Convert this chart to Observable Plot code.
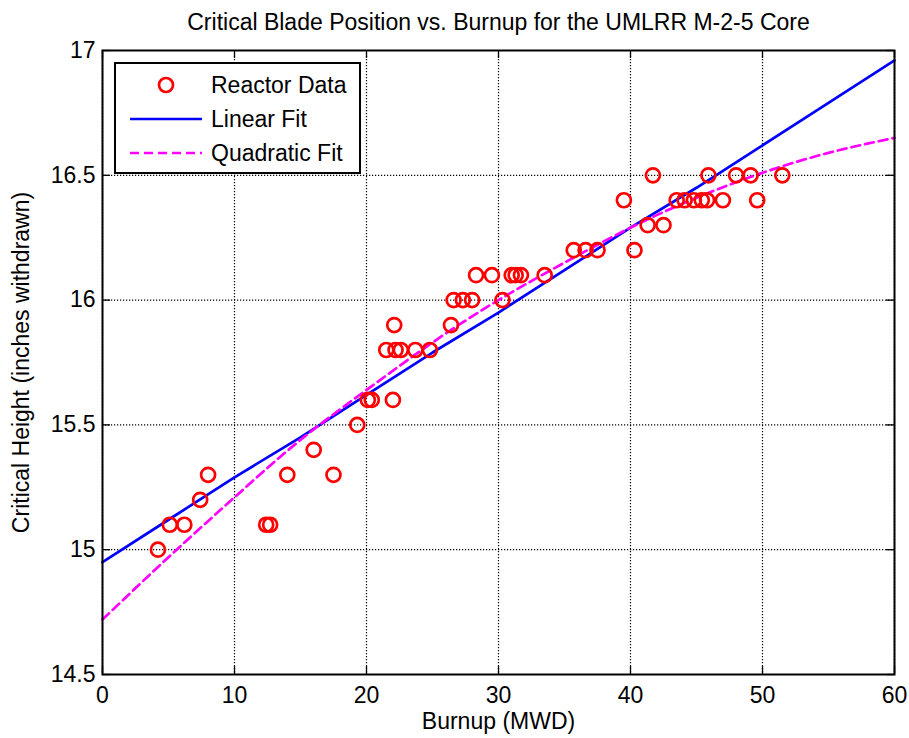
<!DOCTYPE html>
<html><head><meta charset="utf-8">
<script src="https://cdn.jsdelivr.net/npm/d3@7"></script>
<script src="https://cdn.jsdelivr.net/npm/@observablehq/plot@0.6"></script>
<style>
html,body{margin:0;padding:0;background:#fff;}
#chart svg{display:block;}
</style></head><body><div id="chart"></div>
<script>
// Reactor data
const burnup = [4.2,5.1,6.2,7.4,8.0,12.4,12.7,14.0,16.0,17.5,19.3,20.1,20.4,22.0,22.1,21.5,22.2,22.6,23.7,24.8,
  26.4,26.6,27.3,28.0,28.3,29.5,30.3,31.0,31.3,31.7,33.5,35.7,36.6,37.5,39.5,40.3,41.3,41.7,42.5,43.5,
  44.1,44.8,45.4,45.8,45.9,47.0,48.0,49.1,49.6,51.5];
const criticalHeight = [15.0,15.1,15.1,15.2,15.3,15.1,15.1,15.3,15.4,15.3,15.5,15.6,15.6,15.6,15.9,15.8,15.8,15.8,15.8,15.8,
  15.9,16.0,16.0,16.0,16.1,16.1,16.0,16.1,16.1,16.1,16.1,16.2,16.2,16.2,16.4,16.2,16.3,16.5,16.3,16.4,
  16.4,16.4,16.4,16.4,16.5,16.4,16.5,16.5,16.4,16.5];
// Fit curves
const fitBurnup = [0,5,10,15,20,25,30,35,40,45,50,55,60];
const linearFit = [14.95,15.12,15.29,15.45,15.62,15.79,15.95,16.12,16.29,16.45,16.62,16.79,16.96];
const quadraticFit = [14.72,14.97,15.21,15.44,15.64,15.83,16.00,16.15,16.29,16.41,16.51,16.59,16.65];

const xTicks = [0,10,20,30,40,50,60];
const yTicks = [14.5,15,15.5,16,16.5,17];
const titleText = "Critical Blade Position vs. Burnup for the UMLRR M-2-5 Core";
const xLabel = "Burnup (MWD)";
const yLabel = "Critical Height (inches withdrawn)";
const legendLabels = ["Reactor Data","Linear Fit","Quadratic Fit"];

const points = burnup.map((x,i)=>({x, y: criticalHeight[i]}));
const lin = fitBurnup.map((x,i)=>({x, y: linearFit[i]}));
const quad = fitBurnup.map((x,i)=>({x, y: quadraticFit[i]}));

const W = 909, H = 738, mL = 102, mR = 15, mT = 50, mB = 64;
const fw = W - mL - mR, fh = H - mT - mB;
const font = "'Liberation Sans', Arial, Helvetica, sans-serif";
const fs = 23;
const red = "#ff0000", blue = "#0000ff", magenta = "#ff00ff";
const dotR = 7, lw = 2.7, dash = "9,5";
const grid = {stroke: "black", strokeOpacity: 1, strokeWidth: 1.2, strokeDasharray: "1.2,1.8"};
const tk = 8;
const fmt = d => String(d);

const chart = Plot.plot({
  width: W, height: H, marginLeft: mL, marginRight: mR, marginTop: mT, marginBottom: mB,
  style: {fontFamily: font, fontSize: fs + "px", background: "white", color: "black", overflow: "visible"},
  x: {domain: [0, 60], ticks: xTicks, tickFormat: fmt},
  y: {domain: [14.5, 17], ticks: yTicks, tickFormat: fmt},
  marks: [
    Plot.gridX(xTicks, grid),
    Plot.gridY(yTicks, grid),
    Plot.tickX(xTicks, {x: d => d, stroke: "black", strokeWidth: 1.3, insetTop: fh - tk}),
    Plot.tickX(xTicks, {x: d => d, stroke: "black", strokeWidth: 1.3, insetBottom: fh - tk}),
    Plot.tickY(yTicks, {y: d => d, stroke: "black", strokeWidth: 1.3, insetRight: fw - tk}),
    Plot.tickY(yTicks, {y: d => d, stroke: "black", strokeWidth: 1.3, insetLeft: fw - tk}),
    Plot.line(lin, {x: "x", y: "y", stroke: blue, strokeWidth: lw}),
    Plot.line(quad, {x: "x", y: "y", curve: "natural", stroke: magenta, strokeWidth: lw, strokeDasharray: dash}),
    Plot.dot(points, {x: "x", y: "y", r: dotR, stroke: red, strokeWidth: lw, fill: "none"}),
    Plot.frame({stroke: "black", strokeWidth: 2}),
    Plot.axisX(xTicks, {tickSize: 0, tickPadding: 12, fontSize: fs, tickFormat: fmt, label: xLabel, labelAnchor: "center", labelArrow: "none", labelOffset: 54}),
    Plot.axisY(yTicks, {tickSize: 0, tickPadding: 7, fontSize: fs, tickFormat: fmt, label: yLabel, labelAnchor: "center", labelArrow: "none", labelOffset: 90}),
    Plot.text([titleText], {text: d => d, frameAnchor: "top", dy: -28, lineAnchor: "middle", fontSize: fs})
  ]
});
document.getElementById("chart").appendChild(chart);

// Legend
const svg = d3.select(chart);
const lg = svg.append("g").attr("font-family", font).attr("font-size", fs).attr("text-anchor", "start");
lg.append("rect").attr("x", 115).attr("y", 63).attr("width", 245).attr("height", 110)
  .attr("fill", "white").attr("stroke", "black").attr("stroke-width", 2);
const rowY = [85, 119, 153];
lg.append("circle").attr("cx", 166).attr("cy", rowY[0]).attr("r", dotR)
  .attr("fill", "none").attr("stroke", red).attr("stroke-width", lw);
lg.append("line").attr("x1", 130).attr("x2", 202).attr("y1", rowY[1]).attr("y2", rowY[1])
  .attr("stroke", blue).attr("stroke-width", lw);
lg.append("line").attr("x1", 130).attr("x2", 202).attr("y1", rowY[2]).attr("y2", rowY[2])
  .attr("stroke", magenta).attr("stroke-width", lw).attr("stroke-dasharray", dash);
legendLabels.forEach((t, i) => {
  lg.append("text").attr("x", 211).attr("y", rowY[i] + 8).attr("fill", "black").attr("text-anchor", "start").text(t);
});
</script>
</body></html>
